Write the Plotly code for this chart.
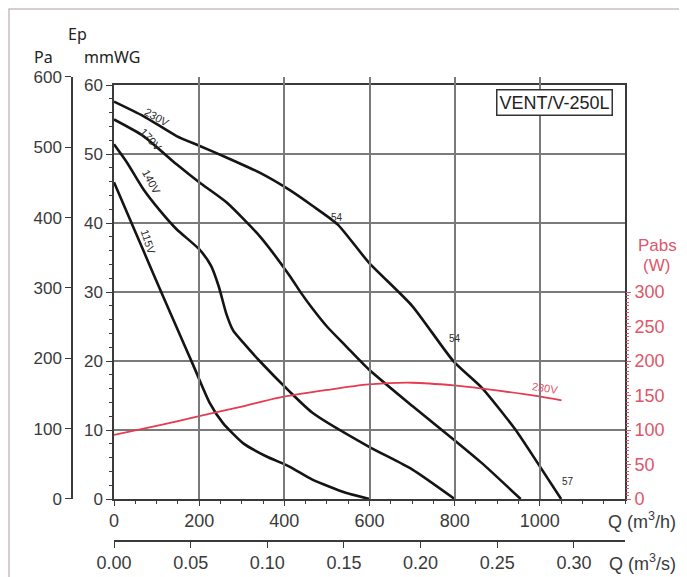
import plotly.graph_objects as go

# ---------------- data ----------------
Q_230 = [0, 69, 147, 200, 264, 342, 412, 466, 525, 598, 700, 798, 864, 942, 995, 1050]
H_230 = [57.6, 55.5, 52.6, 51.2, 49.5, 47.3, 44.8, 42.5, 39.8, 34.3, 28.0, 19.9, 16.1, 10.1, 5.2, 0]

Q_170 = [0, 69, 147, 200, 264, 342, 412, 440, 466, 500, 544, 598, 700, 798, 864, 955]
H_170 = [55.0, 52.6, 48.5, 45.9, 43.0, 38.1, 32.4, 29.8, 27.6, 25.0, 22.2, 18.8, 13.5, 8.6, 5.2, 0]

Q_140 = [0, 30, 69, 108, 147, 200, 228, 246, 264, 280, 303, 342, 412, 466, 598, 700, 800]
H_140 = [51.4, 48.8, 44.9, 41.8, 39.1, 36.2, 33.8, 30.8, 26.8, 24.4, 22.7, 20.0, 15.6, 12.5, 7.6, 4.3, 0]

Q_115 = [0, 30, 69, 108, 147, 186, 225, 256, 303, 357, 412, 466, 544, 600]
H_115 = [45.9, 41.6, 36.0, 30.4, 24.9, 19.4, 13.9, 11.0, 8.1, 6.2, 4.7, 2.8, 0.9, 0]

Q_PABS = [0, 100, 200, 300, 388, 500, 598, 700, 798, 864, 995, 1051]
PABS_230 = [93, 106, 120, 134, 147, 158, 166, 168.5, 164.6, 160, 149, 143]

Q_TICKS_M3H = [0, 200, 400, 600, 800, 1000]
Q_TICKS_M3S = [0.00, 0.05, 0.10, 0.15, 0.20, 0.25, 0.30]
MMWG_TICKS = [0, 10, 20, 30, 40, 50, 60]
PA_TICKS = [0, 100, 200, 300, 400, 500, 600]
PABS_TICKS = [0, 50, 100, 150, 200, 250, 300]

Q_MAX = 1200          # m3/h
H_MAX = 60            # mmWG
PA_PER_MMWG = 9.80665
PABS_MAX = 300        # W, axis shown on lower half

# ---------------- geometry (reference pixels; the page has an 8px body margin) ----------------
OFF = 8
W, HGT = 687 - OFF, 577
ML, MR, MT = 72 - OFF, 62, 70 - OFF
MB = HGT - (541 - OFF)
PW, PH = W - ML - MR, HGT - MT - MB


def px_x(px):
    return (px - OFF - ML) / PW


def px_y(py):
    return (HGT - MB - (py - OFF)) / PH


xdom = [px_x(114), 1.0]
ydom = [px_y(499), px_y(85)]
span = ydom[1] - ydom[0]
y4dom = [ydom[0], ydom[0] + span * PA_TICKS[-1] / (H_MAX * PA_PER_MMWG)]
y3dom = [ydom[0], ydom[0] + span * (PABS_MAX / 10) / H_MAX]

BLACK = "#141414"
RED = "#e63a50"
RED_TXT = "#e0566a"
GRID = "#7a7a7a"
AX = "#3a3a3a"
FONT = "Liberation Sans"

fig = go.Figure()
for q, h in [(Q_230, H_230), (Q_170, H_170), (Q_140, H_140), (Q_115, H_115)]:
    fig.add_trace(go.Scatter(x=q, y=h, mode="lines", xaxis="x", yaxis="y",
                             line=dict(color=BLACK, width=2.6, shape="spline", smoothing=0.6),
                             showlegend=False, hoverinfo="skip"))
fig.add_trace(go.Scatter(x=Q_PABS, y=PABS_230, mode="lines", xaxis="x", yaxis="y3",
                         line=dict(color=RED, width=1.8, shape="spline", smoothing=0.8),
                         showlegend=False, hoverinfo="skip"))
# invisible helpers so the extra scales (m3/s and Pa) are drawn
fig.add_trace(go.Scatter(x=[Q_TICKS_M3S[0], Q_TICKS_M3S[-1]], y=[0, 0], xaxis="x2", yaxis="y",
                         mode="markers", marker=dict(opacity=0), showlegend=False, hoverinfo="skip"))
fig.add_trace(go.Scatter(x=[0, 0], y=[PA_TICKS[0], PA_TICKS[-1]], xaxis="x", yaxis="y4",
                         mode="markers", marker=dict(opacity=0), showlegend=False, hoverinfo="skip"))

tickfont = dict(family=FONT, size=17, color=AX)
xtickfont = dict(family=FONT, size=18, color=AX)

fig.update_layout(
    width=W, height=HGT,
    margin=dict(l=ML, r=MR, t=MT, b=MB, pad=0),
    paper_bgcolor="white", plot_bgcolor="rgba(0,0,0,0)",
    font=dict(family=FONT, color=AX),
    xaxis=dict(domain=xdom, range=[0, Q_MAX], anchor="y",
               tickmode="array", tickvals=Q_TICKS_M3H, ticks="outside", ticklen=5,
               tickwidth=1.2, tickcolor=AX, showline=True, linecolor=AX, linewidth=1.5,
               mirror=True, showgrid=True, gridcolor=GRID, gridwidth=1.5, zeroline=False,
               tickfont=xtickfont,
               minor=dict(dtick=50, tick0=0, ticks="outside", ticklen=3, tickcolor=AX, showgrid=False)),
    xaxis2=dict(overlaying="x", anchor="free", position=0, side="bottom",
                range=[0, Q_MAX / 3600], tickmode="array", tickvals=Q_TICKS_M3S,
                ticktext=[f"{v:.2f}" for v in Q_TICKS_M3S], ticks="outside", ticklen=6,
                tickcolor=AX, showline=True, linecolor=AX, linewidth=1.5,
                showgrid=False, zeroline=False, tickfont=xtickfont),
    yaxis=dict(domain=ydom, range=[0, H_MAX], anchor="x",
               tickmode="array", tickvals=MMWG_TICKS, ticks="outside", ticklen=6,
               tickcolor=AX, showline=True, linecolor=AX, linewidth=1.5, mirror=True,
               showgrid=True, gridcolor=GRID, gridwidth=1.5, zeroline=False,
               tickfont=tickfont,
               minor=dict(dtick=2, tick0=0, ticks="outside", ticklen=3, tickcolor=AX, showgrid=False)),
    yaxis3=dict(domain=y3dom, range=[0, PABS_MAX], anchor="x", side="right",
                tickmode="array", tickvals=PABS_TICKS, ticks="outside", ticklen=5,
                tickcolor=RED_TXT, showline=False, showgrid=False, zeroline=False,
                tickfont=dict(family=FONT, size=18, color=RED_TXT),
                minor=dict(dtick=5, tick0=0, ticks="outside", ticklen=3, tickcolor=RED_TXT, showgrid=False)),
    yaxis4=dict(domain=y4dom, range=[0, PA_TICKS[-1]], anchor="free", position=0, side="left",
                tickmode="array", tickvals=PA_TICKS, ticks="outside", ticklen=6,
                tickcolor=AX, showline=True, linecolor=AX, linewidth=1.5,
                showgrid=False, zeroline=False, tickfont=tickfont),
)

ann = []
small = dict(family=FONT, size=11, color="#2a2a2a")
for text, x, y, ang in [("230V", 100, 55.4, 30), ("170V", 88, 52.1, 48),
                        ("140V", 88, 45.9, 62), ("115V", 80, 37.2, 72)]:
    ann.append(dict(text=text, x=x, y=y, xref="x", yref="y", showarrow=False,
                    textangle=ang, font=small))
for text, x, y in [("54", 524, 40.8), ("54", 800, 23.2), ("57", 1067, 2.6)]:
    ann.append(dict(text=text, x=x, y=y, xref="x", yref="y", showarrow=False,
                    font=dict(family=FONT, size=10, color="#2a2a2a")))
ann.append(dict(text="230V", x=1012, y=161, xref="x", yref="y3", showarrow=False,
                textangle=9, font=dict(family=FONT, size=11, color=RED_TXT)))
ann.append(dict(text="VENT/V-250L", x=1034, y=57.5, xref="x", yref="y", showarrow=False,
                font=dict(family=FONT, size=18, color="#222"), bgcolor="white",
                bordercolor="#333", borderwidth=1.5, borderpad=2))


def paper_text(text, px, py, font):
    ann.append(dict(text=text, x=px_x(px), y=px_y(py), xref="paper", yref="paper",
                    xanchor="center", yanchor="middle", showarrow=False, font=font))


lab = dict(family="Noto Sans", size=16, color="#222")
paper_text("Ep", 77, 34, lab)
paper_text("Pa", 43, 57, lab)
paper_text("mmWG", 112, 57, lab)
red_lab = dict(family=FONT, size=17, color=RED_TXT)
paper_text("Pabs", 657, 245, red_lab)
paper_text("(W)", 656, 265, red_lab)
q_lab = dict(family=FONT, size=18, color=AX)
paper_text("Q (m<sup>3</sup>/h)", 642, 520, q_lab)
paper_text("Q (m<sup>3</sup>/s)", 642, 562, q_lab)
fig.update_layout(annotations=ann)

# outer frame of the image
fig.add_shape(type="rect", xref="paper", yref="paper",
              x0=px_x(9), x1=px_x(720), y0=px_y(640), y1=px_y(9),
              line=dict(color="#cbbcc4", width=1.5), fillcolor="rgba(0,0,0,0)", layer="below")

fig.write_html("out.html")
